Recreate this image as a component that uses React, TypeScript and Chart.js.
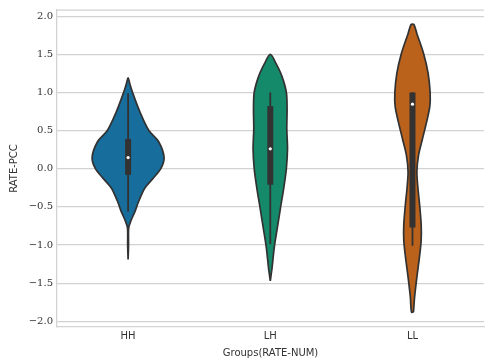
import { useEffect, useRef } from 'react';
import { Chart, registerables } from 'chart.js';

Chart.register(...registerables);

const groups = ['HH', 'LH', 'LL'];
const yTicks = [-2, -1.5, -1, -0.5, 0, 0.5, 1, 1.5, 2];

// Kernel density outlines: y levels from top to bottom, half-width of the violin (category units)
const hhLevels = [1.19, 1.1, 0.99, 0.74, 0.5, 0.35, 0.146, 0.0, -0.13, -0.26, -0.44, -0.56, -0.69, -0.78, -1.0, -1.19];
const hhWidths = [0, 0.014, 0.033, 0.084, 0.146, 0.216, 0.253, 0.23, 0.174, 0.116, 0.072, 0.049, 0.018, 0.004, 0.003, 0];

const lhLevels = [1.5, 1.38, 1.21, 1.0, 0.78, 0.52, 0.26, 0.0, -0.25, -0.51, -0.77, -1.03, -1.29, -1.47];
const lhWidths = [0, 0.04, 0.082, 0.113, 0.118, 0.116, 0.121, 0.113, 0.095, 0.072, 0.05, 0.028, 0.013, 0];

const llLevels = [1.89, 1.77, 1.51, 1.25, 1.0, 0.82, 0.61, 0.39, 0.18, -0.04, -0.25, -0.47, -0.73, -0.94, -1.16, -1.42, -1.68, -1.88];
const llWidths = [0.01, 0.031, 0.078, 0.11, 0.124, 0.122, 0.099, 0.07, 0.043, 0.031, 0.038, 0.05, 0.061, 0.061, 0.049, 0.031, 0.015, 0.007];

// Inner box statistics per group
const q1 = [-0.08, -0.21, -0.77];
const medians = [0.146, 0.26, 0.845];
const q3 = [0.39, 0.82, 1.0];
const whiskerLow = [-0.56, -0.99, -1.01];
const whiskerHigh = [0.99, 1.0, 1.0];

const fillColors = ['#176d9c', '#158a6a', '#ba611b'];

const LINE = '#323232';
const GRID = '#d2d2d2';
const TEXT = '#333333';

function outline(center: number, levels: number[], widths: number[]) {
  const pts: { x: number; y: number }[] = [];
  const n = levels.length;
  // right side, bottom to top
  for (let i = n - 1; i >= 0; i--) pts.push({ x: center + widths[i], y: levels[i] });
  // left side, top to bottom
  for (let i = 0; i < n; i++) {
    if (i === 0 && widths[0] === 0) continue;
    pts.push({ x: center - widths[i], y: levels[i] });
  }
  // close the loop back at the bottom
  pts.push({ x: center + widths[n - 1], y: levels[n - 1] });
  return pts;
}

const fmtTick = (v: number) => {
  const s = Math.abs(v).toFixed(1);
  return v < 0 ? '\u2212' + s : s;
};

export default function App() {
  const canvasRef = useRef<HTMLCanvasElement | null>(null);

  useEffect(() => {
    const canvas = canvasRef.current;
    if (!canvas) return;

    const shapes = [
      outline(0, hhLevels, hhWidths),
      outline(1, lhLevels, lhWidths),
      outline(2, llLevels, llWidths),
    ];

    const datasets: any[] = [];
    shapes.forEach((pts, i) => {
      datasets.push({
        label: groups[i],
        data: pts,
        showLine: true,
        fill: 'shape',
        backgroundColor: fillColors[i],
        borderColor: LINE,
        borderWidth: 1.7,
        tension: 0.3,
        pointRadius: 0,
        order: 4,
      });
    });
    groups.forEach((_, i) => {
      datasets.push({
        label: groups[i] + ' whisker',
        data: [
          { x: i, y: whiskerLow[i] },
          { x: i, y: whiskerHigh[i] },
        ],
        showLine: true,
        borderColor: LINE,
        borderWidth: 1.8,
        borderCapStyle: 'butt',
        pointRadius: 0,
        order: 3,
      });
      datasets.push({
        label: groups[i] + ' box',
        data: [
          { x: i, y: q1[i] },
          { x: i, y: q3[i] },
        ],
        showLine: true,
        borderColor: LINE,
        borderWidth: 6,
        borderCapStyle: 'butt',
        pointRadius: 0,
        order: 2,
      });
    });
    datasets.push({
      label: 'median',
      data: groups.map((_, i) => ({ x: i, y: medians[i] })),
      showLine: false,
      pointRadius: 1.6,
      pointBackgroundColor: '#ffffff',
      pointBorderWidth: 0,
      order: 1,
    });

    const topSpine = {
      id: 'topSpine',
      afterDraw(chart: any) {
        const { ctx, chartArea } = chart;
        ctx.save();
        ctx.strokeStyle = GRID;
        ctx.lineWidth = 1.25;
        ctx.beginPath();
        ctx.moveTo(chartArea.left, chartArea.top);
        ctx.lineTo(chartArea.right, chartArea.top);
        ctx.stroke();
        ctx.restore();
      },
    };

    const chart = new Chart(canvas, {
      type: 'scatter',
      data: { datasets },
      plugins: [topSpine],
      options: {
        responsive: false,
        devicePixelRatio: 1,
        animation: false,
        layout: { padding: { top: 6, left: 0, right: 0, bottom: 0 } },
        plugins: {
          legend: { display: false },
          tooltip: { enabled: false },
        },
        scales: {
          x: {
            type: 'linear',
            min: -0.5,
            max: 2.503,
            afterBuildTicks: (scale: any) => {
              scale.ticks = groups.map((_, i) => ({ value: i }));
            },
            afterFit: (scale: any) => {
              scale.height = 36;
            },
            grid: { display: false, drawTicks: false },
            border: { display: true, color: GRID, width: 1.25 },
            ticks: {
              padding: 3,
              color: TEXT,
              font: { family: 'DejaVu Sans', size: 10 },
              callback: (v: any) => groups[Number(v)] ?? '',
              maxRotation: 0,
            },
            title: {
              display: true,
              text: 'Groups(RATE-NUM)',
              color: TEXT,
              font: { family: 'DejaVu Sans', size: 10 },
              padding: { top: 0, bottom: 4 },
            },
          },
          y: {
            type: 'linear',
            min: -2.075,
            max: 2.08,
            afterBuildTicks: (scale: any) => {
              scale.ticks = yTicks.map((v) => ({ value: v }));
            },
            afterFit: (scale: any) => {
              scale.width = 57;
            },
            grid: { color: GRID, lineWidth: 1.2, drawTicks: false },
            border: { display: true, color: GRID, width: 1.25 },
            ticks: {
              padding: 4,
              color: TEXT,
              font: { family: 'DejaVu Serif', size: 10 },
              callback: (v: any) => fmtTick(Number(v)),
            },
            title: {
              display: true,
              text: 'RATE-PCC',
              color: TEXT,
              font: { family: 'DejaVu Sans', size: 10 },
              padding: { top: 8, bottom: 0 },
            },
          },
        },
      },
    });

    return () => chart.destroy();
  }, []);

  return (
    <div
      style={{
        position: 'fixed',
        left: 0,
        top: 0,
        width: 485,
        height: 363,
        overflow: 'hidden',
        background: '#ffffff',
      }}
    >
      <canvas ref={canvasRef} width={488} height={363} style={{ display: 'block' }} />
    </div>
  );
}
